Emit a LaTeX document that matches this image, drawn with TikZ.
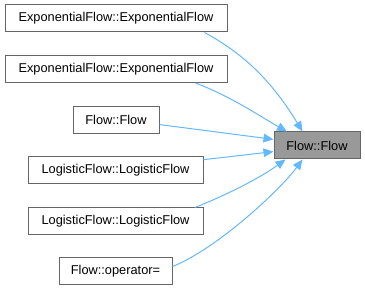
\documentclass[tikz,border=0pt]{standalone}
\usepackage{fontspec}
\setmainfont{Liberation Sans}
\usetikzlibrary{arrows.meta}

\definecolor{edgeblue}{HTML}{63B8FF}
\definecolor{boxline}{HTML}{666666}
\definecolor{boxsel}{HTML}{999999}

\begin{document}
\begin{tikzpicture}[x=0.75pt, y=-0.75pt,
	fn/.style={draw=boxline, fill=white, line width=0.75pt, minimum height=20.25pt,
		inner sep=0pt, font=\fontsize{9.6pt}{11pt}\selectfont},
	fnsel/.style={fn, fill=boxsel},
	call/.style={edgeblue, line width=0.75pt, -{Triangle[length=7.5pt, width=6.5pt]}}]
	\useasboundingbox (0,0) rectangle (365,291);

	% callers
	\node[fn, minimum width=166.5pt] (expA) at (116,18.5) {ExponentialFlow::ExponentialFlow};
	\node[fn, minimum width=166.5pt] (expB) at (116,69) {ExponentialFlow::ExponentialFlow};
	\node[fn, minimum width=64.5pt] (flowcopy) at (116,120) {Flow::Flow};
	\node[fn, minimum width=131.25pt] (logA) at (115.5,170.5) {LogisticFlow::LogisticFlow};
	\node[fn, minimum width=131.25pt] (logB) at (115.5,221.5) {LogisticFlow::LogisticFlow};
	\node[fn, minimum width=84.75pt] (assign) at (115.5,271.5) {Flow::operator=};

	% the called function
	\node[fnsel, minimum width=64.5pt] (flow) at (317,145.5) {Flow::Flow};

	\draw[call] (expA.-9) .. controls +(43,23) and +(-28,-46) .. (flow.136);
	\draw[call] (expB.-10.3) .. controls +(35,13) and +(-25,-14) .. (flow.155.8);
	\draw[call] (flowcopy.-6.6) -- (flow.172.7);
	\draw[call] (logA.7.5) -- (flow.188.6);
	\draw[call] (logB.10.3) .. controls +(35,-14) and +(-25,18) .. (flow.204.2);
	\draw[call] (assign.5.6) .. controls +(45,-18) and +(-22,30) .. (flow.224);
\end{tikzpicture}
\end{document}
